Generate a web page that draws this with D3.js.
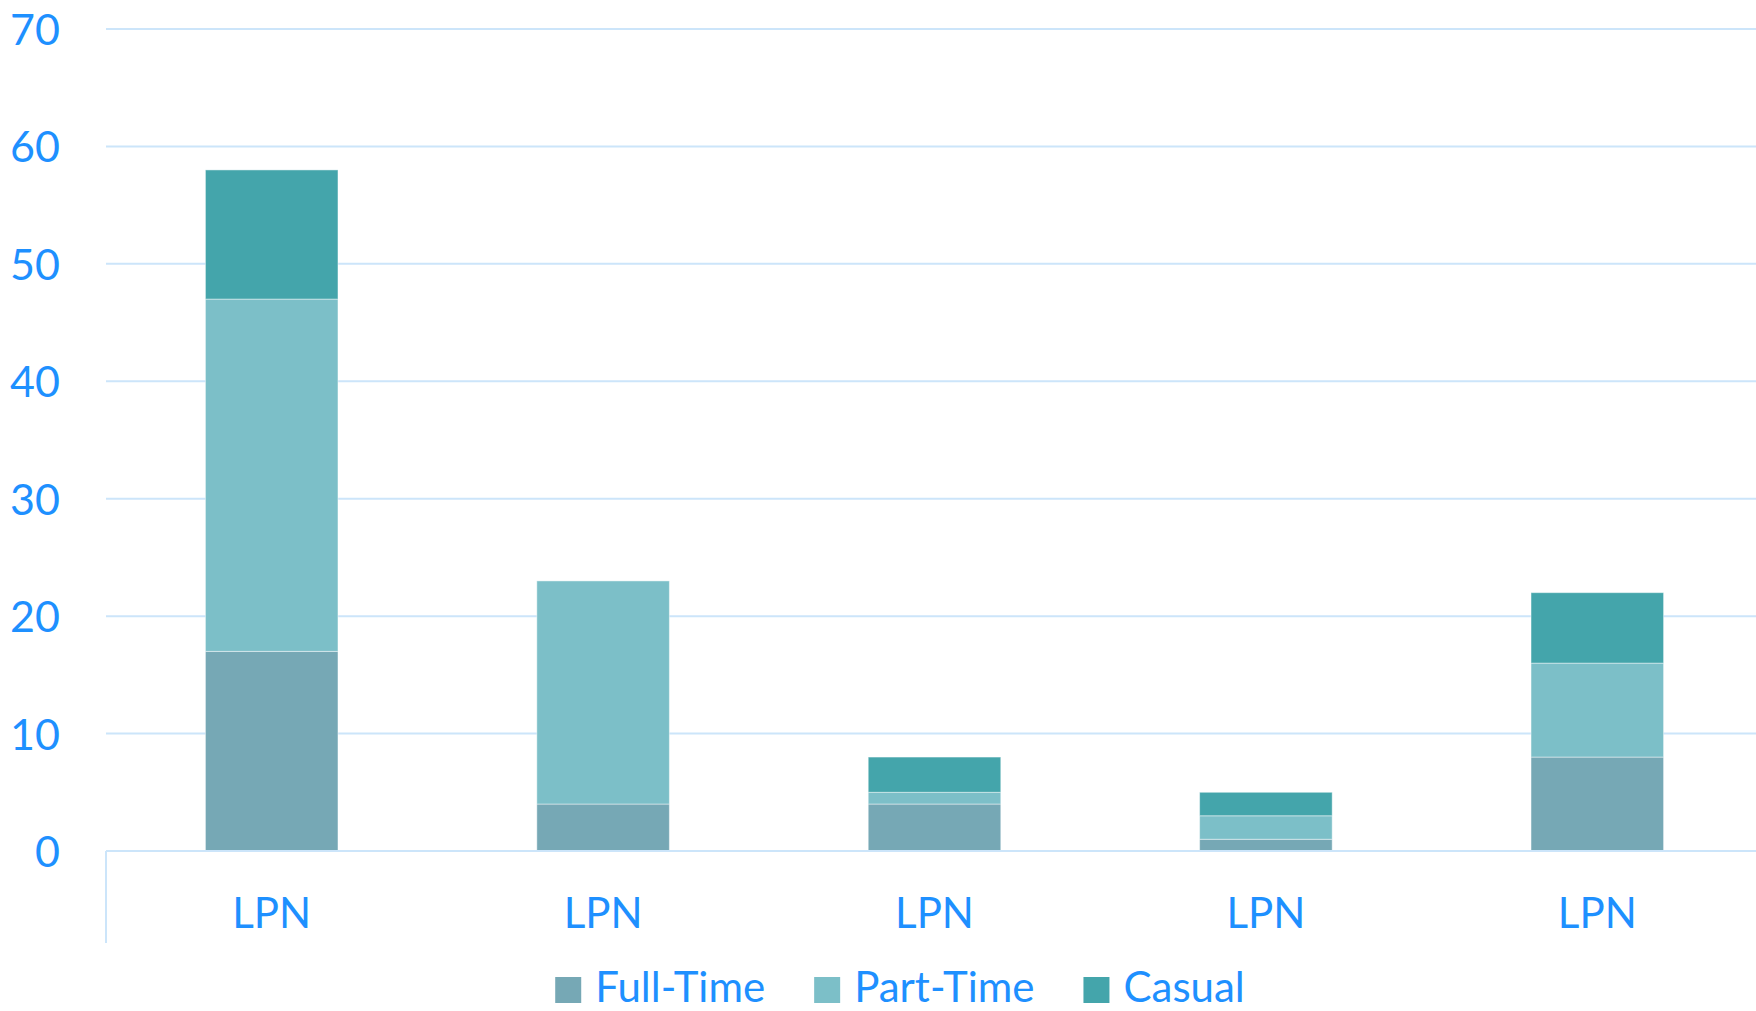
<!DOCTYPE html>
<html>
<head>
<meta charset="utf-8">
<script src="https://cdn.jsdelivr.net/npm/d3@7"></script>
<style>
  html, body { margin: 0; padding: 0; background: #ffffff; }
  svg { display: block; }
  text { font-family: Lato, "Open Sans", sans-serif; fill: #1E90FF; }
</style>
</head>
<body>
<svg id="chart" width="1756" height="1011"></svg>
<script>
// Staffing counts per category, stacked by employment type
const categories = ["LPN", "LPN ", "LPN  ", "LPN   ", "LPN    "];
const categoryLabels = ["LPN", "LPN", "LPN", "LPN", "LPN"];
const seriesNames = ["Full-Time", "Part-Time", "Casual"];
const fullTime = [17, 4, 4, 1, 8];
const partTime = [30, 19, 1, 2, 8];
const casual = [11, 0, 3, 2, 6];
const yTicks = [0, 10, 20, 30, 40, 50, 60, 70];
const seriesColors = ["#76A8B5", "#7CBFC8", "#44A5AB"];

const svg = d3.select("#chart");
const W = 1756, H = 1011;
const plot = { left: 106, right: 1763, top: 29, bottom: 851 };

const x = d3.scaleBand()
  .domain(categories)
  .range([plot.left, plot.right])
  .paddingInner(0.6)
  .paddingOuter(0.3);

const y = d3.scaleLinear()
  .domain([0, 70])
  .range([plot.bottom, plot.top]);

// Horizontal gridlines
svg.append("g")
  .selectAll("line")
  .data(yTicks.filter(d => d > 0))
  .join("line")
  .attr("x1", plot.left)
  .attr("x2", W)
  .attr("y1", d => y(d))
  .attr("y2", d => y(d))
  .attr("stroke", "#CCE5FA")
  .attr("stroke-width", 2);

// Y axis labels
const yAxis = d3.axisLeft(y).tickValues(yTicks).tickSize(0).tickPadding(0).tickFormat(d3.format("d"));
const yg = svg.append("g").attr("transform", `translate(${plot.left - 46},0)`).call(yAxis);
yg.select(".domain").remove();
yg.selectAll("text")
  .attr("font-size", 43)
  .attr("font-family", "Lato, sans-serif")
  .attr("fill", "#1E90FF")
  .attr("dy", "0.36em");

// Stacked bars
const rows = categories.map((c, i) => ({
  cat: c,
  "Full-Time": fullTime[i],
  "Part-Time": partTime[i],
  "Casual": casual[i]
}));
const stacked = d3.stack().keys(seriesNames)(rows);

svg.append("g")
  .selectAll("g")
  .data(stacked)
  .join("g")
  .attr("fill", (d, i) => seriesColors[i])
  .selectAll("rect")
  .data(d => d.filter(s => s[1] - s[0] > 0))
  .join("rect")
  .attr("x", d => x(d.data.cat))
  .attr("width", x.bandwidth())
  .attr("y", d => y(d[1]))
  .attr("height", d => y(d[0]) - y(d[1]))
  .attr("stroke", "rgba(255,255,255,0.45)")
  .attr("stroke-width", 1);

// Baseline and left category-axis line
svg.append("line")
  .attr("x1", plot.left).attr("x2", W)
  .attr("y1", y(0)).attr("y2", y(0))
  .attr("stroke", "#CCE5FA").attr("stroke-width", 2);
svg.append("line")
  .attr("x1", plot.left).attr("x2", plot.left)
  .attr("y1", y(0)).attr("y2", 943)
  .attr("stroke", "#CCE5FA").attr("stroke-width", 2);

// Category labels
svg.append("g")
  .selectAll("text")
  .data(categories)
  .join("text")
  .attr("x", d => x(d) + x.bandwidth() / 2)
  .attr("y", 928)
  .attr("text-anchor", "middle")
  .attr("font-size", 42)
  .text((d, i) => categoryLabels[i]);

// Legend
const legend = svg.append("g");
let cursor = 0;
seriesNames.forEach((name, i) => {
  const item = legend.append("g").attr("transform", `translate(${cursor},0)`);
  item.append("rect")
    .attr("x", 0).attr("y", 977)
    .attr("width", 26).attr("height", 26)
    .attr("fill", seriesColors[i]);
  const t = item.append("text")
    .attr("x", 40).attr("y", 1002)
    .attr("font-size", 42)
    .text(name);
  cursor += 40 + t.node().getComputedTextLength() + 49;
});
const legendWidth = cursor - 49;
legend.attr("transform", `translate(${900 - legendWidth / 2},0)`);
</script>
</body>
</html>
